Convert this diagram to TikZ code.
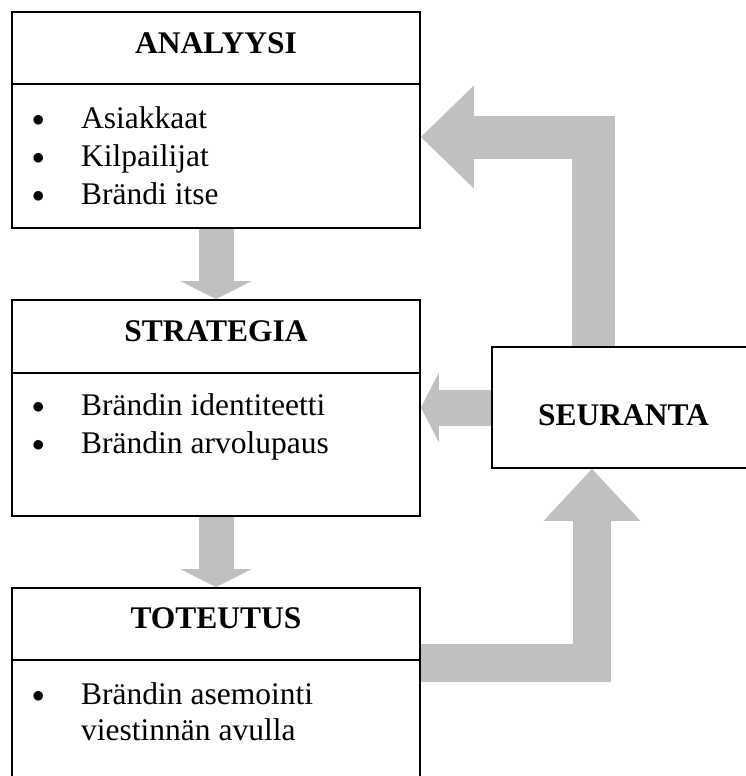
\documentclass[tikz,border=0pt]{standalone}
\usepackage{fontspec}
\setmainfont{Liberation Serif}
\usetikzlibrary{arrows.meta, backgrounds, calc}

\definecolor{arrowgray}{HTML}{C0C0C0}
\newcommand{\bodyfont}{\fontsize{31.5}{38}\selectfont}
\newcommand{\bul}{\makebox[49pt][l]{\raisebox{1.8pt}{$\bullet$}}}

\tikzset{
    box/.style={draw, line width=1.8pt, inner sep=0pt},
    divider/.style={line width=1.8pt},
    heading/.style={anchor=base, inner sep=0pt, font=\bodyfont\bfseries},
    item/.style={anchor=base west, inner sep=0pt, font=\bodyfont},
    bigarrow/.style={draw=arrowgray, line width=#1},
}

\begin{document}
\begin{tikzpicture}[x=1pt, y=-1pt]
    \useasboundingbox (0,0) rectangle (746,776);
    \clip (0,0) rectangle (746,776);

    % boxes
    \node[box, minimum width=408pt, minimum height=216pt] (analyysi) at (216,120) {};
    \node[box, minimum width=408pt, minimum height=216pt] (strategia) at (216,408) {};
    \node[box, minimum width=408pt, minimum height=212pt] (toteutus) at (216,694) {};
    \node[box, minimum width=278pt, minimum height=121pt] (seuranta) at (631,407.5) {};

    \draw[divider] (analyysi.west |- 0,84) -- (analyysi.east |- 0,84);
    \draw[divider] (strategia.west |- 0,373) -- (strategia.east |- 0,373);
    \draw[divider] (toteutus.west |- 0,660) -- (toteutus.east |- 0,660);

    % headings
    \node[heading] (analyysi-title) at (216,53) {ANALYYSI};
    \node[heading] (strategia-title) at (216,341) {STRATEGIA};
    \node[heading] (toteutus-title) at (216,628) {TOTEUTUS};
    \node[heading] (seuranta-title) at (623.5,425) {SEURANTA};

    % bullet items
    \foreach \t [count=\i] in {Asiakkaat, Kilpailijat, Brändi itse}
        \node[item] (ana-\i) at (32,90+38*\i) {\bul\t};
    \foreach \t [count=\i] in {Brändin identiteetti, Brändin arvolupaus}
        \node[item] (str-\i) at (32,377+38*\i) {\bul\t};
    \node[item] (tot-1) at (32,704) {\bul Brändin asemointi};
    \node[item] (tot-2) at (81,740) {viestinnän avulla};

    % block arrows
    \begin{scope}[on background layer]
        \draw[bigarrow=35pt, -{Triangle[width=71pt, length=18pt, line width=0pt]}]
            (analyysi.south) -- (strategia.north);
        \draw[bigarrow=35pt, -{Triangle[width=71pt, length=18pt, line width=0pt]}]
            (strategia.south) -- (toteutus.north);
        \draw[bigarrow=36pt, -{Triangle[width=70pt, length=18pt, line width=0pt]}]
            (seuranta.west) -- (seuranta.west -| strategia.east);
        \draw[bigarrow=43pt, -{Triangle[width=103pt, length=53pt, line width=0pt]}]
            ([xshift=-37.5pt]seuranta.north) |- ($(analyysi.east)+(0,17)$);
        \draw[bigarrow=38pt, -{Triangle[width=97pt, length=52pt, line width=0pt]}]
            ($(toteutus.east)+(0,-31)$) -| ([xshift=-39pt]seuranta.south);
    \end{scope}
\end{tikzpicture}
\end{document}
